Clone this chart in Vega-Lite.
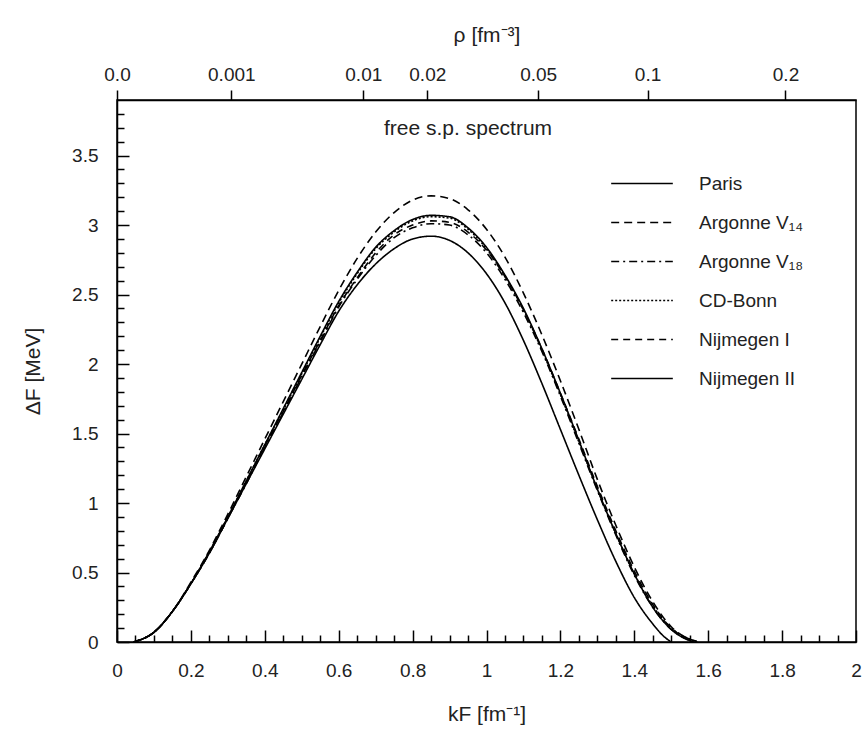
{
  "$schema": "https://vega.github.io/schema/vega-lite/v6.json",
  "width": 739,
  "height": 542,
  "autosize": {"type": "none"},
  "padding": {"left": 117, "top": 100, "right": 9, "bottom": 94},
  "background": "white",
  "config": {
    "font": "Liberation Sans",
    "view": {"stroke": "#000", "strokeWidth": 1.5},
    "axis": {
      "domainColor": "#000", "domainWidth": 1.5, "tickColor": "#000", "tickWidth": 1.5,
      "labelColor": "#222", "labelFontSize": 19, "labelFont": "Liberation Sans",
      "titleColor": "#222", "titleFontSize": 21, "titleFontWeight": "normal", "titleFont": "Liberation Sans",
      "grid": false
    }
  },
  "datasets": {
    "gap": [
      {"potential": "Paris", "kF": 0.045, "gap": 0}, {"potential": "Paris", "kF": 0.1, "gap": 0.07}, {"potential": "Paris", "kF": 0.15, "gap": 0.22}, {"potential": "Paris", "kF": 0.2, "gap": 0.42}, {"potential": "Paris", "kF": 0.25, "gap": 0.65}, {"potential": "Paris", "kF": 0.3, "gap": 0.9}, {"potential": "Paris", "kF": 0.35, "gap": 1.16}, {"potential": "Paris", "kF": 0.4, "gap": 1.42}, {"potential": "Paris", "kF": 0.45, "gap": 1.68}, {"potential": "Paris", "kF": 0.5, "gap": 1.94}, {"potential": "Paris", "kF": 0.55, "gap": 2.2}, {"potential": "Paris", "kF": 0.6, "gap": 2.45}, {"potential": "Paris", "kF": 0.65, "gap": 2.66}, {"potential": "Paris", "kF": 0.7, "gap": 2.84}, {"potential": "Paris", "kF": 0.75, "gap": 2.96}, {"potential": "Paris", "kF": 0.8, "gap": 3.04}, {"potential": "Paris", "kF": 0.85, "gap": 3.07}, {"potential": "Paris", "kF": 0.9, "gap": 3.06}, {"potential": "Paris", "kF": 0.95, "gap": 2.98}, {"potential": "Paris", "kF": 1.0, "gap": 2.84}, {"potential": "Paris", "kF": 1.05, "gap": 2.64}, {"potential": "Paris", "kF": 1.1, "gap": 2.4}, {"potential": "Paris", "kF": 1.15, "gap": 2.11}, {"potential": "Paris", "kF": 1.2, "gap": 1.79}, {"potential": "Paris", "kF": 1.25, "gap": 1.45}, {"potential": "Paris", "kF": 1.3, "gap": 1.1}, {"potential": "Paris", "kF": 1.35, "gap": 0.78}, {"potential": "Paris", "kF": 1.4, "gap": 0.49}, {"potential": "Paris", "kF": 1.45, "gap": 0.25}, {"potential": "Paris", "kF": 1.5, "gap": 0.09}, {"potential": "Paris", "kF": 1.55, "gap": 0.01}, {"potential": "Paris", "kF": 1.56, "gap": 0},

      {"potential": "Argonne V₁₄", "kF": 0.045, "gap": 0}, {"potential": "Argonne V₁₄", "kF": 0.1, "gap": 0.07}, {"potential": "Argonne V₁₄", "kF": 0.15, "gap": 0.22}, {"potential": "Argonne V₁₄", "kF": 0.2, "gap": 0.43}, {"potential": "Argonne V₁₄", "kF": 0.25, "gap": 0.66}, {"potential": "Argonne V₁₄", "kF": 0.3, "gap": 0.92}, {"potential": "Argonne V₁₄", "kF": 0.35, "gap": 1.19}, {"potential": "Argonne V₁₄", "kF": 0.4, "gap": 1.46}, {"potential": "Argonne V₁₄", "kF": 0.45, "gap": 1.73}, {"potential": "Argonne V₁₄", "kF": 0.5, "gap": 2.0}, {"potential": "Argonne V₁₄", "kF": 0.55, "gap": 2.27}, {"potential": "Argonne V₁₄", "kF": 0.6, "gap": 2.53}, {"potential": "Argonne V₁₄", "kF": 0.65, "gap": 2.76}, {"potential": "Argonne V₁₄", "kF": 0.7, "gap": 2.95}, {"potential": "Argonne V₁₄", "kF": 0.75, "gap": 3.09}, {"potential": "Argonne V₁₄", "kF": 0.8, "gap": 3.18}, {"potential": "Argonne V₁₄", "kF": 0.85, "gap": 3.21}, {"potential": "Argonne V₁₄", "kF": 0.9, "gap": 3.19}, {"potential": "Argonne V₁₄", "kF": 0.95, "gap": 3.11}, {"potential": "Argonne V₁₄", "kF": 1.0, "gap": 2.97}, {"potential": "Argonne V₁₄", "kF": 1.05, "gap": 2.77}, {"potential": "Argonne V₁₄", "kF": 1.1, "gap": 2.51}, {"potential": "Argonne V₁₄", "kF": 1.15, "gap": 2.21}, {"potential": "Argonne V₁₄", "kF": 1.2, "gap": 1.88}, {"potential": "Argonne V₁₄", "kF": 1.25, "gap": 1.53}, {"potential": "Argonne V₁₄", "kF": 1.3, "gap": 1.17}, {"potential": "Argonne V₁₄", "kF": 1.35, "gap": 0.84}, {"potential": "Argonne V₁₄", "kF": 1.4, "gap": 0.54}, {"potential": "Argonne V₁₄", "kF": 1.45, "gap": 0.29}, {"potential": "Argonne V₁₄", "kF": 1.5, "gap": 0.11}, {"potential": "Argonne V₁₄", "kF": 1.55, "gap": 0.02}, {"potential": "Argonne V₁₄", "kF": 1.58, "gap": 0},

      {"potential": "Argonne V₁₈", "kF": 0.045, "gap": 0}, {"potential": "Argonne V₁₈", "kF": 0.1, "gap": 0.07}, {"potential": "Argonne V₁₈", "kF": 0.15, "gap": 0.22}, {"potential": "Argonne V₁₈", "kF": 0.2, "gap": 0.42}, {"potential": "Argonne V₁₈", "kF": 0.25, "gap": 0.64}, {"potential": "Argonne V₁₈", "kF": 0.3, "gap": 0.89}, {"potential": "Argonne V₁₈", "kF": 0.35, "gap": 1.14}, {"potential": "Argonne V₁₈", "kF": 0.4, "gap": 1.4}, {"potential": "Argonne V₁₈", "kF": 0.45, "gap": 1.65}, {"potential": "Argonne V₁₈", "kF": 0.5, "gap": 1.91}, {"potential": "Argonne V₁₈", "kF": 0.55, "gap": 2.16}, {"potential": "Argonne V₁₈", "kF": 0.6, "gap": 2.41}, {"potential": "Argonne V₁₈", "kF": 0.65, "gap": 2.61}, {"potential": "Argonne V₁₈", "kF": 0.7, "gap": 2.78}, {"potential": "Argonne V₁₈", "kF": 0.75, "gap": 2.91}, {"potential": "Argonne V₁₈", "kF": 0.8, "gap": 2.98}, {"potential": "Argonne V₁₈", "kF": 0.85, "gap": 3.01}, {"potential": "Argonne V₁₈", "kF": 0.9, "gap": 3.0}, {"potential": "Argonne V₁₈", "kF": 0.95, "gap": 2.93}, {"potential": "Argonne V₁₈", "kF": 1.0, "gap": 2.8}, {"potential": "Argonne V₁₈", "kF": 1.05, "gap": 2.61}, {"potential": "Argonne V₁₈", "kF": 1.1, "gap": 2.37}, {"potential": "Argonne V₁₈", "kF": 1.15, "gap": 2.09}, {"potential": "Argonne V₁₈", "kF": 1.2, "gap": 1.77}, {"potential": "Argonne V₁₈", "kF": 1.25, "gap": 1.43}, {"potential": "Argonne V₁₈", "kF": 1.3, "gap": 1.09}, {"potential": "Argonne V₁₈", "kF": 1.35, "gap": 0.77}, {"potential": "Argonne V₁₈", "kF": 1.4, "gap": 0.48}, {"potential": "Argonne V₁₈", "kF": 1.45, "gap": 0.25}, {"potential": "Argonne V₁₈", "kF": 1.5, "gap": 0.09}, {"potential": "Argonne V₁₈", "kF": 1.55, "gap": 0.01}, {"potential": "Argonne V₁₈", "kF": 1.56, "gap": 0},

      {"potential": "CD-Bonn", "kF": 0.045, "gap": 0}, {"potential": "CD-Bonn", "kF": 0.1, "gap": 0.07}, {"potential": "CD-Bonn", "kF": 0.15, "gap": 0.22}, {"potential": "CD-Bonn", "kF": 0.2, "gap": 0.42}, {"potential": "CD-Bonn", "kF": 0.25, "gap": 0.65}, {"potential": "CD-Bonn", "kF": 0.3, "gap": 0.9}, {"potential": "CD-Bonn", "kF": 0.35, "gap": 1.16}, {"potential": "CD-Bonn", "kF": 0.4, "gap": 1.42}, {"potential": "CD-Bonn", "kF": 0.45, "gap": 1.67}, {"potential": "CD-Bonn", "kF": 0.5, "gap": 1.93}, {"potential": "CD-Bonn", "kF": 0.55, "gap": 2.19}, {"potential": "CD-Bonn", "kF": 0.6, "gap": 2.44}, {"potential": "CD-Bonn", "kF": 0.65, "gap": 2.65}, {"potential": "CD-Bonn", "kF": 0.7, "gap": 2.83}, {"potential": "CD-Bonn", "kF": 0.75, "gap": 2.95}, {"potential": "CD-Bonn", "kF": 0.8, "gap": 3.03}, {"potential": "CD-Bonn", "kF": 0.85, "gap": 3.06}, {"potential": "CD-Bonn", "kF": 0.9, "gap": 3.05}, {"potential": "CD-Bonn", "kF": 0.95, "gap": 2.97}, {"potential": "CD-Bonn", "kF": 1.0, "gap": 2.83}, {"potential": "CD-Bonn", "kF": 1.05, "gap": 2.63}, {"potential": "CD-Bonn", "kF": 1.1, "gap": 2.39}, {"potential": "CD-Bonn", "kF": 1.15, "gap": 2.1}, {"potential": "CD-Bonn", "kF": 1.2, "gap": 1.78}, {"potential": "CD-Bonn", "kF": 1.25, "gap": 1.44}, {"potential": "CD-Bonn", "kF": 1.3, "gap": 1.1}, {"potential": "CD-Bonn", "kF": 1.35, "gap": 0.78}, {"potential": "CD-Bonn", "kF": 1.4, "gap": 0.49}, {"potential": "CD-Bonn", "kF": 1.45, "gap": 0.26}, {"potential": "CD-Bonn", "kF": 1.5, "gap": 0.1}, {"potential": "CD-Bonn", "kF": 1.55, "gap": 0.02}, {"potential": "CD-Bonn", "kF": 1.57, "gap": 0},

      {"potential": "Nijmegen I", "kF": 0.045, "gap": 0}, {"potential": "Nijmegen I", "kF": 0.1, "gap": 0.07}, {"potential": "Nijmegen I", "kF": 0.15, "gap": 0.22}, {"potential": "Nijmegen I", "kF": 0.2, "gap": 0.42}, {"potential": "Nijmegen I", "kF": 0.25, "gap": 0.64}, {"potential": "Nijmegen I", "kF": 0.3, "gap": 0.89}, {"potential": "Nijmegen I", "kF": 0.35, "gap": 1.15}, {"potential": "Nijmegen I", "kF": 0.4, "gap": 1.41}, {"potential": "Nijmegen I", "kF": 0.45, "gap": 1.66}, {"potential": "Nijmegen I", "kF": 0.5, "gap": 1.92}, {"potential": "Nijmegen I", "kF": 0.55, "gap": 2.17}, {"potential": "Nijmegen I", "kF": 0.6, "gap": 2.42}, {"potential": "Nijmegen I", "kF": 0.65, "gap": 2.62}, {"potential": "Nijmegen I", "kF": 0.7, "gap": 2.8}, {"potential": "Nijmegen I", "kF": 0.75, "gap": 2.93}, {"potential": "Nijmegen I", "kF": 0.8, "gap": 3.0}, {"potential": "Nijmegen I", "kF": 0.85, "gap": 3.03}, {"potential": "Nijmegen I", "kF": 0.9, "gap": 3.02}, {"potential": "Nijmegen I", "kF": 0.95, "gap": 2.95}, {"potential": "Nijmegen I", "kF": 1.0, "gap": 2.82}, {"potential": "Nijmegen I", "kF": 1.05, "gap": 2.63}, {"potential": "Nijmegen I", "kF": 1.1, "gap": 2.39}, {"potential": "Nijmegen I", "kF": 1.15, "gap": 2.11}, {"potential": "Nijmegen I", "kF": 1.2, "gap": 1.79}, {"potential": "Nijmegen I", "kF": 1.25, "gap": 1.46}, {"potential": "Nijmegen I", "kF": 1.3, "gap": 1.12}, {"potential": "Nijmegen I", "kF": 1.35, "gap": 0.8}, {"potential": "Nijmegen I", "kF": 1.4, "gap": 0.51}, {"potential": "Nijmegen I", "kF": 1.45, "gap": 0.27}, {"potential": "Nijmegen I", "kF": 1.5, "gap": 0.1}, {"potential": "Nijmegen I", "kF": 1.55, "gap": 0.02}, {"potential": "Nijmegen I", "kF": 1.57, "gap": 0},

      {"potential": "Nijmegen II", "kF": 0.045, "gap": 0}, {"potential": "Nijmegen II", "kF": 0.1, "gap": 0.07}, {"potential": "Nijmegen II", "kF": 0.15, "gap": 0.22}, {"potential": "Nijmegen II", "kF": 0.2, "gap": 0.42}, {"potential": "Nijmegen II", "kF": 0.25, "gap": 0.64}, {"potential": "Nijmegen II", "kF": 0.3, "gap": 0.89}, {"potential": "Nijmegen II", "kF": 0.35, "gap": 1.14}, {"potential": "Nijmegen II", "kF": 0.4, "gap": 1.39}, {"potential": "Nijmegen II", "kF": 0.45, "gap": 1.64}, {"potential": "Nijmegen II", "kF": 0.5, "gap": 1.89}, {"potential": "Nijmegen II", "kF": 0.55, "gap": 2.14}, {"potential": "Nijmegen II", "kF": 0.6, "gap": 2.38}, {"potential": "Nijmegen II", "kF": 0.65, "gap": 2.57}, {"potential": "Nijmegen II", "kF": 0.7, "gap": 2.72}, {"potential": "Nijmegen II", "kF": 0.75, "gap": 2.83}, {"potential": "Nijmegen II", "kF": 0.8, "gap": 2.9}, {"potential": "Nijmegen II", "kF": 0.85, "gap": 2.92}, {"potential": "Nijmegen II", "kF": 0.9, "gap": 2.89}, {"potential": "Nijmegen II", "kF": 0.95, "gap": 2.8}, {"potential": "Nijmegen II", "kF": 1.0, "gap": 2.65}, {"potential": "Nijmegen II", "kF": 1.05, "gap": 2.44}, {"potential": "Nijmegen II", "kF": 1.1, "gap": 2.17}, {"potential": "Nijmegen II", "kF": 1.15, "gap": 1.86}, {"potential": "Nijmegen II", "kF": 1.2, "gap": 1.53}, {"potential": "Nijmegen II", "kF": 1.25, "gap": 1.2}, {"potential": "Nijmegen II", "kF": 1.3, "gap": 0.88}, {"potential": "Nijmegen II", "kF": 1.35, "gap": 0.58}, {"potential": "Nijmegen II", "kF": 1.4, "gap": 0.32}, {"potential": "Nijmegen II", "kF": 1.45, "gap": 0.13}, {"potential": "Nijmegen II", "kF": 1.48, "gap": 0.04}, {"potential": "Nijmegen II", "kF": 1.5, "gap": 0}
    ],
    "note": [{"text": "free s.p. spectrum", "kF": 0.95, "gap": 3.69}]
  },
  "layer": [
    {
      "data": {"name": "gap"},
      "mark": {"type": "line", "color": "#000", "interpolate": "monotone"},
      "encoding": {
        "x": {
          "field": "kF", "type": "quantitative",
          "scale": {"domain": [0, 2], "nice": false},
          "axis": {
            "orient": "bottom",
            "title": "kF [fm⁻¹]",
            "titlePadding": 18,
            "values": [0, 0.05, 0.1, 0.15, 0.2, 0.25, 0.3, 0.35, 0.4, 0.45, 0.5, 0.55, 0.6, 0.65, 0.7, 0.75, 0.8, 0.85, 0.9, 0.95, 1, 1.05, 1.1, 1.15, 1.2, 1.25, 1.3, 1.35, 1.4, 1.45, 1.5, 1.55, 1.6, 1.65, 1.7, 1.75, 1.8, 1.85, 1.9, 1.95, 2],
            "labelExpr": "abs(datum.value*5 - round(datum.value*5)) < 0.001 ? format(datum.value, '~g') : ''",
            "tickSize": {"condition": {"test": "abs(datum.value*5 - round(datum.value*5)) < 0.001", "value": -12}, "value": -7},
            "labelPadding": 31,
            "labelFlush": false,
            "labelOverlap": false
          }
        },
        "y": {
          "field": "gap", "type": "quantitative",
          "scale": {"domain": [0, 3.9], "nice": false},
          "axis": {
            "orient": "left",
            "title": "ΔF [MeV]",
            "titlePadding": 28,
            "values": [0, 0.1, 0.2, 0.3, 0.4, 0.5, 0.6, 0.7, 0.8, 0.9, 1, 1.1, 1.2, 1.3, 1.4, 1.5, 1.6, 1.7, 1.8, 1.9, 2, 2.1, 2.2, 2.3, 2.4, 2.5, 2.6, 2.7, 2.8, 2.9, 3, 3.1, 3.2, 3.3, 3.4, 3.5, 3.6, 3.7, 3.8],
            "labelExpr": "abs(datum.value*2 - round(datum.value*2)) < 0.001 ? format(datum.value, '~g') : ''",
            "tickSize": {"condition": {"test": "abs(datum.value*2 - round(datum.value*2)) < 0.001", "value": -12}, "value": -7},
            "labelPadding": 31,
            "labelOverlap": false
          }
        },
        "strokeDash": {
          "field": "potential", "type": "nominal",
          "scale": {
            "domain": ["Paris", "Argonne V₁₄", "Argonne V₁₈", "CD-Bonn", "Nijmegen I", "Nijmegen II"],
            "range": [[1, 0], [8, 5], [8, 4, 2, 4], [2, 2], [7, 5], [1, 0]]
          },
          "legend": {
            "orient": "none", "legendX": 493, "legendY": 64, "title": null,
            "symbolType": "stroke", "symbolSize": 3800, "symbolStrokeWidth": 1.5, "symbolStrokeColor": "#000",
            "labelFontSize": 19, "labelFont": "Liberation Sans", "labelColor": "#222", "labelOffset": 25,
            "clipHeight": 39, "rowPadding": 0
          }
        },
        "strokeWidth": {
          "field": "potential", "type": "nominal",
          "scale": {
            "domain": ["Paris", "Argonne V₁₄", "Argonne V₁₈", "CD-Bonn", "Nijmegen I", "Nijmegen II"],
            "range": [1.6, 1.6, 1.4, 1.4, 1.4, 2]
          },
          "legend": null
        }
      }
    },
    {
      "data": {"name": "gap"},
      "mark": {"type": "point", "opacity": 0},
      "encoding": {
        "x": {
          "field": "kF", "type": "quantitative",
          "axis": {
            "orient": "top",
            "title": "ρ [fm⁻³]",
            "titlePadding": 20,
            "values": [0, 0.3094, 0.6665, 0.8397, 1.1397, 1.4359, 1.8092],
            "labelExpr": "datum.value < 0.01 ? '0.0' : format(pow(datum.value, 3) / (3 * PI * PI), '.1r')",
            "tickSize": 10,
            "labelPadding": 6,
            "labelFlush": false,
            "labelOverlap": false
          }
        },
        "y": {"field": "gap", "type": "quantitative", "axis": null}
      }
    },
    {
      "data": {"name": "note"},
      "mark": {"type": "text", "fontSize": 21, "font": "Liberation Sans", "color": "#222", "align": "center", "baseline": "middle"},
      "encoding": {
        "x": {"field": "kF", "type": "quantitative", "axis": null},
        "y": {"field": "gap", "type": "quantitative", "axis": null},
        "text": {"field": "text"}
      }
    }
  ],
  "resolve": {"axis": {"x": "independent", "y": "independent"}}
}
